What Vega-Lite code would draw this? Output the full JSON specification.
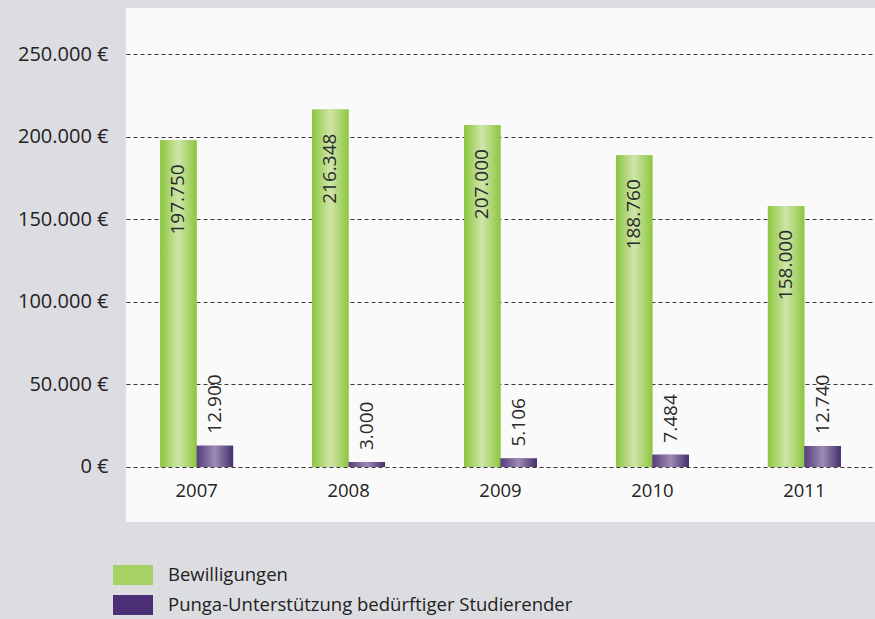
{
  "$schema": "https://vega.github.io/schema/vega-lite/v6.json",
  "width": 749,
  "height": 514,
  "autosize": {"type": "none"},
  "padding": {"left": 126, "top": 8, "right": 0, "bottom": 97},
  "background": "#dcdde0",
  "config": {
    "view": {"stroke": null, "fill": "#fafafa"},
    "font": "Open Sans",
    "locale": {"number": {"decimal": ",", "thousands": ".", "grouping": [3], "currency": ["", " €"]}}
  },
  "data": {
    "values": [
      {"year": "2007", "series": "Bewilligungen", "value": 197750},
      {"year": "2008", "series": "Bewilligungen", "value": 216348},
      {"year": "2009", "series": "Bewilligungen", "value": 207000},
      {"year": "2010", "series": "Bewilligungen", "value": 188760},
      {"year": "2011", "series": "Bewilligungen", "value": 158000},
      {"year": "2007", "series": "Punga-Unterstützung bedürftiger Studierender", "value": 12900},
      {"year": "2008", "series": "Punga-Unterstützung bedürftiger Studierender", "value": 3000},
      {"year": "2009", "series": "Punga-Unterstützung bedürftiger Studierender", "value": 5106},
      {"year": "2010", "series": "Punga-Unterstützung bedürftiger Studierender", "value": 7484},
      {"year": "2011", "series": "Punga-Unterstützung bedürftiger Studierender", "value": 12740}
    ]
  },
  "encoding": {
    "x": {
      "field": "year", "type": "nominal",
      "scale": {"paddingInner": 0.52, "paddingOuter": 0.225},
      "axis": {"title": null, "domain": false, "ticks": false, "labelAngle": 0, "labelFontSize": 18.5, "labelColor": "#222222", "labelPadding": 0, "offset": -41, "grid": false}
    },
    "xOffset": {"field": "series", "type": "nominal", "scale": {"paddingInner": 0, "paddingOuter": 0}},
    "y": {
      "field": "value", "type": "quantitative",
      "scale": {"domain": [-33300, 277850], "nice": false, "zero": false},
      "axis": {"title": null, "values": [0, 50000, 100000, 150000, 200000, 250000], "format": "$,d", "domain": false, "ticks": false, "labelPadding": 18, "labelFontSize": 20, "labelColor": "#222222", "grid": true, "gridDash": [4, 3], "gridColor": "#3a3a3a", "gridWidth": 1, "gridOpacity": 1}
    }
  },
  "layer": [
    {
      "mark": {"type": "bar"},
      "encoding": {
        "y2": {"datum": 0},
        "color": {
          "field": "series", "type": "nominal",
          "scale": {"domain": ["Bewilligungen", "Punga-Unterstützung bedürftiger Studierender"], "range": ["#a6d163", "#4b3077"]},
          "legend": {"title": null, "orient": "none", "legendX": -13, "legendY": 547, "direction": "vertical", "symbolType": "M-1,-0.5H1V0.5H-1Z", "symbolSize": 1600, "symbolStrokeWidth": 0, "symbolOpacity": 1, "labelFontSize": 18.5, "labelColor": "#222222", "labelOffset": 15, "rowPadding": 0, "labelLimit": 600}
        }
      }
    },
    {
      "transform": [{"filter": "datum.series === 'Bewilligungen'"}],
      "mark": {"type": "bar", "fill": {"gradient": "linear", "x1": 0, "x2": 1, "y1": 0, "y2": 0, "stops": [{"offset": 0, "color": "#8cc63e"}, {"offset": 0.5, "color": "#d0e5aa"}, {"offset": 1, "color": "#8cc63e"}]}},
      "encoding": {"y2": {"datum": 0}}
    },
    {
      "transform": [{"filter": "datum.series !== 'Bewilligungen'"}],
      "mark": {"type": "bar", "fill": {"gradient": "linear", "x1": 0, "x2": 1, "y1": 0, "y2": 0, "stops": [{"offset": 0, "color": "#573d7e"}, {"offset": 0.5, "color": "#9c8bb1"}, {"offset": 1, "color": "#47306f"}]}},
      "encoding": {"y2": {"datum": 0}}
    },
    {
      "transform": [{"filter": "datum.series === 'Bewilligungen'"}],
      "mark": {"type": "text", "angle": 270, "align": "right", "baseline": "middle", "dx": -24, "fontSize": 19, "color": "#2a2a2a"},
      "encoding": {"text": {"field": "value", "type": "quantitative", "format": ",d"}}
    },
    {
      "transform": [{"filter": "datum.series !== 'Bewilligungen'"}],
      "mark": {"type": "text", "angle": 270, "align": "left", "baseline": "middle", "dx": 12, "fontSize": 19, "color": "#2a2a2a"},
      "encoding": {"text": {"field": "value", "type": "quantitative", "format": ",d"}}
    }
  ]
}
